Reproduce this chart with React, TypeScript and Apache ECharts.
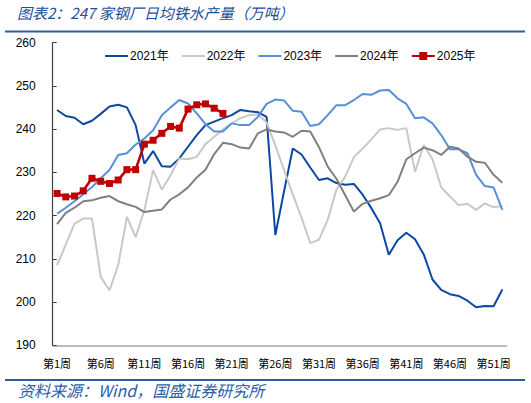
import React, { useEffect, useRef } from "react";
import * as echarts from "echarts";

const weeks: string[] = Array.from({ length: 52 }, (_, i) => `第${i + 1}周`);

const y2021 = [244.4, 243.0, 242.6, 241.1, 241.9, 243.5, 245.2, 245.6, 245.0, 240.9, 232.0, 234.9, 231.4, 231.3, 233.2, 235.9, 238.6, 240.9, 241.7, 242.5, 243.2, 244.4, 244.1, 243.9, 242.8, 215.5, 225.6, 235.5, 234.1, 231.1, 228.2, 228.6, 227.5, 227.1, 227.3, 224.8, 221.7, 218.2, 210.9, 214.3, 216.0, 214.5, 211.0, 205.2, 202.8, 201.8, 201.4, 200.3, 198.8, 199.1, 199.0, 202.9];
const y2022 = [208.5, 213.3, 218.1, 219.3, 219.3, 205.8, 202.7, 208.5, 219.7, 215.0, 221.2, 230.5, 226.0, 229.3, 233.2, 233.0, 233.6, 236.5, 238.2, 239.9, 241.3, 242.5, 243.2, 243.4, 241.5, 236.2, 230.5, 224.9, 219.5, 213.6, 214.4, 219.0, 226.0, 229.0, 233.5, 235.5, 237.6, 239.9, 240.2, 239.8, 240.2, 230.1, 236.3, 233.0, 226.5, 224.4, 222.4, 222.7, 221.3, 222.8, 221.9, 222.2];
const y2023 = [220.4, 221.8, 223.3, 224.9, 226.6, 228.6, 230.5, 234.0, 234.4, 236.4, 237.8, 239.7, 243.2, 245.0, 246.7, 245.9, 243.6, 241.1, 239.4, 239.4, 241.3, 240.9, 240.9, 242.8, 245.8, 246.8, 246.6, 244.2, 244.0, 240.7, 241.1, 243.2, 245.5, 245.5, 246.7, 248.1, 247.9, 248.9, 249.0, 247.1, 245.8, 242.5, 242.7, 241.3, 238.6, 235.3, 235.3, 234.4, 229.4, 226.8, 226.5, 221.3];
const y2024 = [218.0, 220.6, 221.8, 223.3, 223.5, 224.1, 224.5, 223.3, 222.6, 222.0, 220.8, 221.1, 221.4, 223.7, 224.9, 226.5, 228.8, 230.6, 234.2, 236.8, 236.5, 235.7, 235.5, 239.0, 239.9, 239.4, 239.2, 238.2, 239.6, 239.4, 235.8, 231.3, 228.5, 224.7, 220.9, 222.7, 223.4, 224.0, 224.7, 227.8, 233.0, 234.4, 235.7, 235.1, 234.0, 235.9, 235.5, 233.6, 232.4, 232.2, 229.4, 227.6];
const y2025 = [225.1, 224.3, 224.5, 225.7, 228.6, 227.9, 227.4, 228.2, 230.6, 230.6, 236.5, 237.4, 239.0, 240.6, 240.2, 244.6, 245.6, 245.8, 244.8, 243.6];

const seriesNames = ["2021年", "2022年", "2023年", "2024年", "2025年"];
const seriesColors = ["#0B47A3", "#C8C8C8", "#5590DA", "#808080", "#C00000"];

const titleText = "图表2：247 家钢厂日均铁水产量（万吨）";
const sourceText = "资料来源：Wind，国盛证券研究所";

export default function App() {
  const ref = useRef<HTMLDivElement>(null);
  useEffect(() => {
    document.body.style.margin = "0";
    if (!ref.current) return;
    const chart = echarts.init(ref.current, undefined, { renderer: "svg" });
    const data = [y2021, y2022, y2023, y2024, y2025];
    const series = data.map((d, i) => ({
      name: seriesNames[i],
      type: "line",
      data: d,
      symbol: i === 4 ? "rect" : "none",
      symbolSize: 7,
      showSymbol: i === 4,
      showAllSymbol: true,
      lineStyle: { width: i === 4 ? 2.6 : 2, color: seriesColors[i] },
      itemStyle: { color: seriesColors[i] },
      z: i === 4 ? 10 : 2 + i,
    }));
    chart.setOption({
      animation: false,
      textStyle: { fontFamily: "'Liberation Sans', Arial, 'Noto Sans CJK SC', sans-serif" },
      grid: { left: 52.7, right: 24.3, top: 42.5, bottom: 57.75, containLabel: false },
      legend: {
        left: 99,
        top: 45,
        width: 430,
        itemWidth: 23,
        itemHeight: 10,
        itemGap: 12,
        textStyle: { fontSize: 12, color: "#000", padding: [0, 0, 0, -3] },
        data: seriesNames.map((n, i) =>
          i === 4 ? { name: n } : { name: n, itemStyle: { opacity: 0 } }
        ),
      },
      xAxis: {
        type: "category",
        data: weeks,
        boundaryGap: true,
        axisLine: { lineStyle: { color: "#A6A6A6", width: 1.5 } },
        axisTick: { inside: true, interval: 4, length: 4, lineStyle: { color: "#595959" } },
        axisLabel: {
          interval: 4,
          fontSize: 11,
          color: "#000",
          margin: 12,
          fontFamily: "'Noto Sans CJK SC', sans-serif",
        },
        splitLine: { show: false },
      },
      yAxis: {
        type: "value",
        min: 190,
        max: 260,
        interval: 10,
        axisLine: { show: true, lineStyle: { color: "#404040", width: 1.2 } },
        axisTick: { show: true, inside: true, length: 4, lineStyle: { color: "#404040" } },
        axisLabel: { fontSize: 12, color: "#000", margin: 17 },
        splitLine: { show: false },
      },
      graphic: [
        {
          type: "text",
          left: 17,
          top: 5,
          style: {
            text: titleText,
            font: "italic 15px 'Noto Sans CJK SC', sans-serif",
            fill: "#1F4E9A",
          },
        },
        {
          type: "line",
          shape: { x1: 5, y1: 31.5, x2: 525, y2: 31.5 },
          style: { stroke: "#2E5C9E", lineWidth: 1.8 },
        },
        {
          type: "line",
          shape: { x1: 5, y1: 380, x2: 525, y2: 380 },
          style: { stroke: "#2E5C9E", lineWidth: 1.8 },
        },
        {
          type: "text",
          left: 18,
          top: 382,
          style: {
            text: sourceText,
            font: "italic 16px 'Noto Sans CJK SC', sans-serif",
            fill: "#2B5DAA",
          },
        },
      ],
      series,
    });
    return () => chart.dispose();
  }, []);
  return <div ref={ref} style={{ width: 531, height: 403 }} />;
}
